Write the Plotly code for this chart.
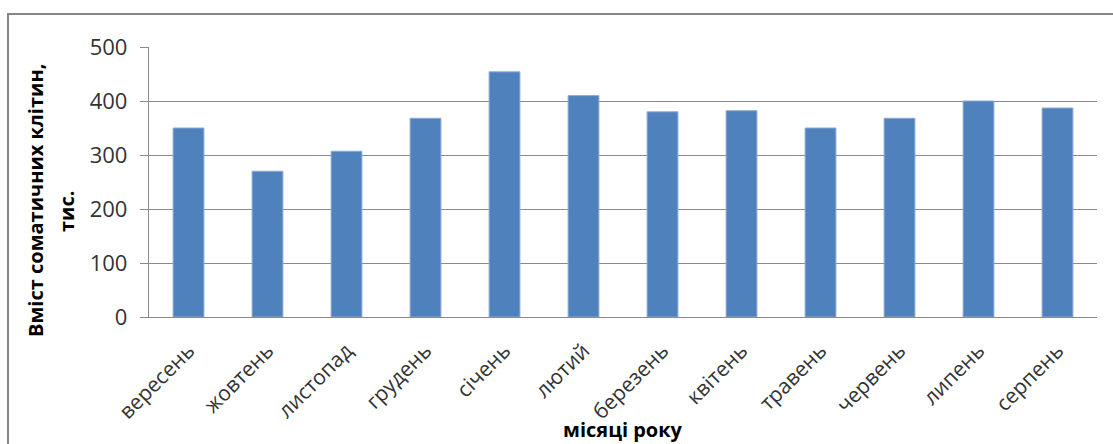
import plotly.graph_objects as go

months = ["вересень", "жовтень", "листопад", "грудень", "січень", "лютий",
          "березень", "квітень", "травень", "червень", "липень", "серпень"]
somatic_cells = [350, 270, 307, 368, 454, 410, 380, 382, 350, 368, 400, 387]
y_ticks = [0, 100, 200, 300, 400, 500]

W, H = 1113, 444
L, R, T, B = 149, 16, 47, 127
pw, ph = W - L - R, H - T - B

def px(x):
    return (x - L) / pw

def py(y):
    return (H - B - y) / ph

FONT = "Open Sans"
GRID = "#8a8a8a"

fig = go.Figure(go.Bar(
    x=months, y=somatic_cells,
    marker=dict(color="#4F81BD", line=dict(color="#8FAAD6", width=1)),
))

fig.update_layout(
    width=W, height=H,
    margin=dict(l=L, r=R, t=T, b=B),
    paper_bgcolor="white", plot_bgcolor="white",
    bargap=0.61, showlegend=False,
    font=dict(family=FONT, color="#404040"),
    xaxis=dict(
        showline=True, linecolor=GRID, linewidth=1.3,
        ticks="", tickangle=-45, tickfont=dict(size=21, color="#333333"),
        ticklabelstandoff=12,
    ),
    yaxis=dict(
        range=[0, 500], tickvals=y_ticks,
        showline=True, linecolor=GRID, linewidth=1.3,
        showgrid=True, gridcolor=GRID, gridwidth=1.3,
        ticks="outside", ticklen=8, tickcolor=GRID, tickwidth=1.3,
        tickfont=dict(size=22, color="#333333"), ticklabelstandoff=8,
        zeroline=False,
    ),
    shapes=[dict(type="rect", xref="paper", yref="paper",
                 x0=px(8), x1=px(1130), y0=py(470), y1=py(14),
                 line=dict(color="#868686", width=2), fillcolor="rgba(0,0,0,0)")],
    annotations=[
        dict(text="<b>Вміст соматичних клітин,</b>", textangle=-90,
             xref="paper", yref="paper", x=px(35), y=py(201),
             xanchor="center", yanchor="middle", showarrow=False,
             font=dict(family=FONT, size=20, color="#000000")),
        dict(text="<b>тис.</b>", textangle=-90,
             xref="paper", yref="paper", x=px(66), y=py(212),
             xanchor="center", yanchor="middle", showarrow=False,
             font=dict(family=FONT, size=20, color="#000000")),
        dict(text="<b>місяці року</b>",
             xref="paper", yref="paper", x=0.5, y=py(429),
             xanchor="center", yanchor="middle", showarrow=False,
             font=dict(family=FONT, size=20, color="#000000")),
    ],
)

fig.write_html("out.html")
